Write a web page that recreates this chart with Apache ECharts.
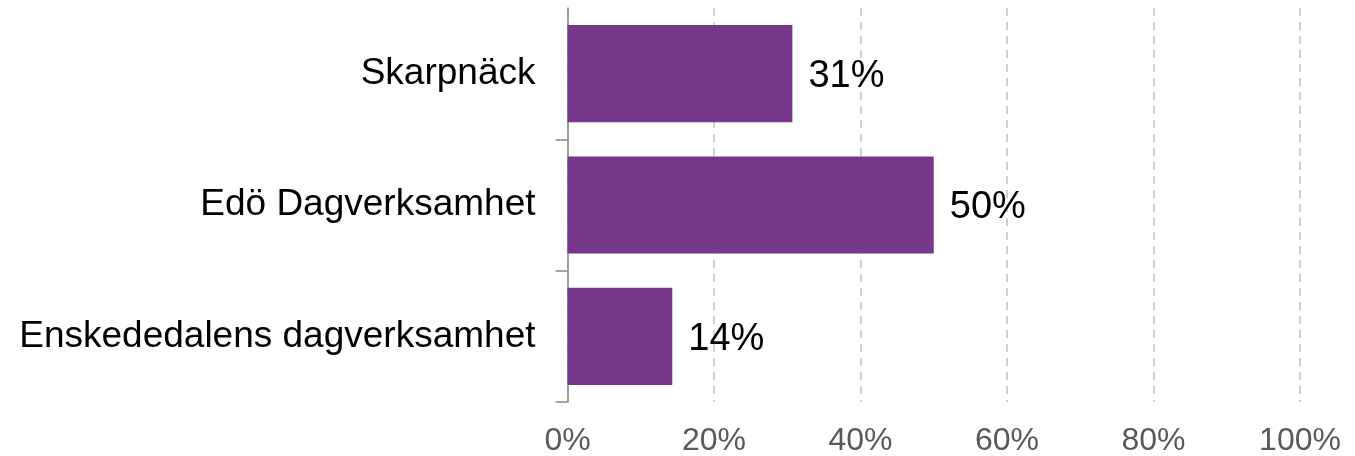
<!DOCTYPE html>
<html>
<head>
<meta charset="utf-8">
<script src="https://cdn.jsdelivr.net/npm/echarts@6/dist/echarts.min.js"></script>
<style>
  html, body { margin: 0; padding: 0; background: #fff; }
  #chart { width: 1355px; height: 456px; }
</style>
</head>
<body>
<div id="chart"></div>
<script>
// data
const categories = ['Skarpnäck', 'Edö Dagverksamhet', 'Enskededalens dagverksamhet'];
const shares = [30.7, 50.0, 14.3];
const shareLabels = ['31%', '50%', '14%'];
const xTicks = [0, 20, 40, 60, 80, 100];

const chart = echarts.init(document.getElementById('chart'));

const option = {
  animation: false,
  textStyle: { fontFamily: 'Liberation Sans, Arial, sans-serif' },
  grid: {
    left: 567.5, right: 55, top: 8, bottom: 54,
    containLabel: false,
    outerBoundsMode: 'none'
  },
  xAxis: {
    type: 'value',
    min: xTicks[0],
    max: xTicks[xTicks.length - 1],
    interval: 20,
    axisLine: { show: false },
    axisTick: { show: false },
    splitLine: {
      show: true,
      lineStyle: { color: '#c0c0c0', type: [8, 6], width: 1.5 }
    },
    axisLabel: {
      color: '#595959',
      fontSize: 32,
      margin: 23,
      formatter: v => v + '%'
    }
  },
  yAxis: {
    type: 'category',
    inverse: true,
    data: categories,
    axisLine: { show: true, lineStyle: { color: '#888', width: 1.5 } },
    axisTick: {
      show: true,
      length: 12,
      interval: (i) => i !== 0,
      lineStyle: { color: '#888', width: 1.5 }
    },
    axisLabel: { color: '#000', fontSize: 37, margin: 32 },
    splitLine: { show: false }
  },
  series: [{
    type: 'bar',
    data: shares,
    barCategoryGap: '26%',
    itemStyle: { color: '#77378a' },
    label: {
      show: true,
      position: 'right',
      distance: 16,
      offset: [0, 3],
      color: '#000',
      fontSize: 38,
      formatter: p => shareLabels[p.dataIndex]
    }
  }]
};

chart.setOption(option);
</script>
</body>
</html>
